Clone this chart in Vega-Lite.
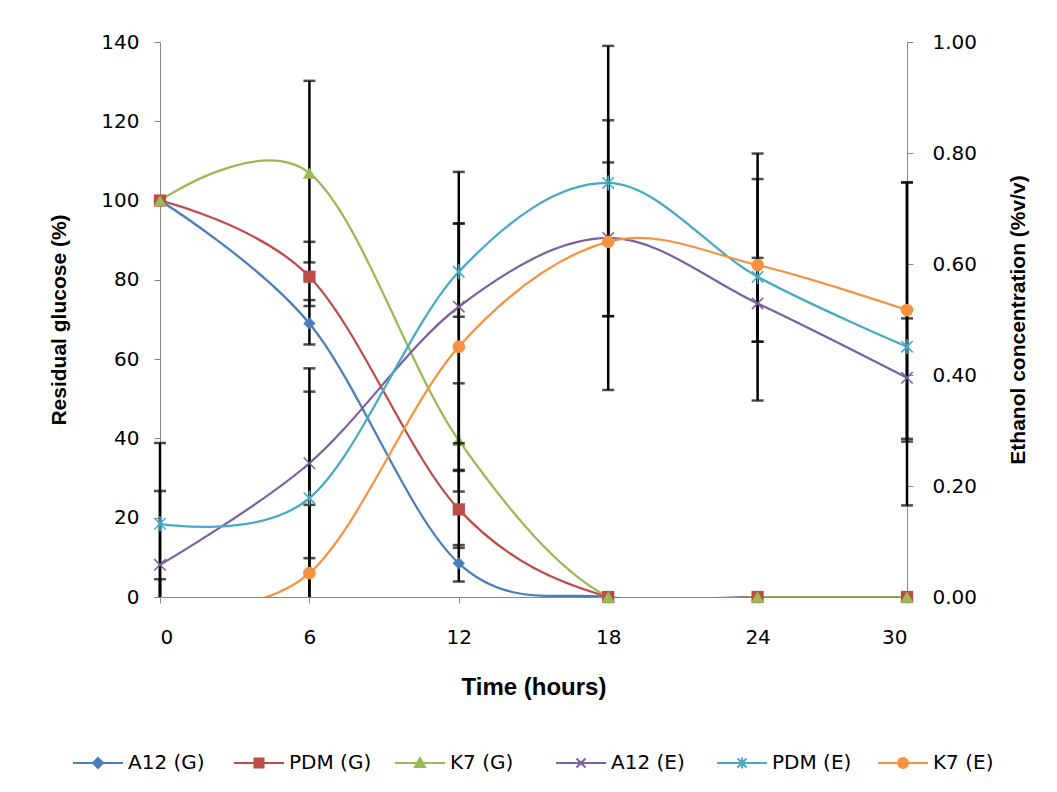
{
  "$schema": "https://vega.github.io/schema/vega-lite/v6.json",
  "width": 747,
  "height": 555,
  "autosize": {"type": "none"},
  "padding": {"left": 160, "top": 42, "right": 150, "bottom": 195},
  "background": "white",
  "config": {
    "view": {"stroke": null},
    "font": "Liberation Sans",
    "axis": {
      "grid": false,
      "domainColor": "#868686",
      "tickColor": "#868686",
      "domainWidth": 1,
      "tickWidth": 1,
      "tickSize": 6,
      "labelColor": "#000000",
      "labelFont": "DejaVu Sans",
      "labelFontSize": 20,
      "titleFont": "Liberation Sans",
      "titleFontSize": 21,
      "titleFontWeight": "bold",
      "titleColor": "#000000"
    }
  },
  "data": {
    "values": [
      {"group": "G", "series": "A12 (G)", "time": 0, "value": 100, "lo": null, "hi": null},
      {"group": "G", "series": "A12 (G)", "time": 6, "value": 69, "lo": 63.7, "hi": 74.9},
      {"group": "G", "series": "A12 (G)", "time": 12, "value": 8.5, "lo": 3.9, "hi": 13.1},
      {"group": "G", "series": "A12 (G)", "time": 18, "value": 0, "lo": null, "hi": null},
      {"group": "G", "series": "A12 (G)", "time": 24, "value": 0, "lo": null, "hi": null},
      {"group": "G", "series": "A12 (G)", "time": 30, "value": 0, "lo": null, "hi": null},
      {"group": "G", "series": "PDM (G)", "time": 0, "value": 100, "lo": null, "hi": null},
      {"group": "G", "series": "PDM (G)", "time": 6, "value": 80.8, "lo": 73.4, "hi": 89.6},
      {"group": "G", "series": "PDM (G)", "time": 12, "value": 22.1, "lo": 12.4, "hi": 31.8},
      {"group": "G", "series": "PDM (G)", "time": 18, "value": 0, "lo": null, "hi": null},
      {"group": "G", "series": "PDM (G)", "time": 24, "value": 0, "lo": null, "hi": null},
      {"group": "G", "series": "PDM (G)", "time": 30, "value": 0, "lo": null, "hi": null},
      {"group": "G", "series": "K7 (G)", "time": 0, "value": 100, "lo": null, "hi": null},
      {"group": "G", "series": "K7 (G)", "time": 6, "value": 106.9, "lo": 84.4, "hi": 130.2},
      {"group": "G", "series": "K7 (G)", "time": 12, "value": 39.5, "lo": 26.6, "hi": 53.9},
      {"group": "G", "series": "K7 (G)", "time": 18, "value": 0, "lo": null, "hi": null},
      {"group": "G", "series": "K7 (G)", "time": 24, "value": 0, "lo": null, "hi": null},
      {"group": "G", "series": "K7 (G)", "time": 30, "value": 0, "lo": null, "hi": null},
      {"group": "E", "series": "A12 (E)", "time": 0, "value": 0.058, "lo": -0.077, "hi": 0.191},
      {"group": "E", "series": "A12 (E)", "time": 6, "value": 0.241, "lo": 0.07, "hi": 0.412},
      {"group": "E", "series": "A12 (E)", "time": 12, "value": 0.523, "lo": 0.277, "hi": 0.766},
      {"group": "E", "series": "A12 (E)", "time": 18, "value": 0.647, "lo": 0.506, "hi": 0.783},
      {"group": "E", "series": "A12 (E)", "time": 24, "value": 0.529, "lo": 0.46, "hi": 0.611},
      {"group": "E", "series": "A12 (E)", "time": 30, "value": 0.395, "lo": 0.28, "hi": 0.502},
      {"group": "E", "series": "PDM (E)", "time": 0, "value": 0.132, "lo": -0.018, "hi": 0.2775},
      {"group": "E", "series": "PDM (E)", "time": 6, "value": 0.178, "lo": -0.014, "hi": 0.37},
      {"group": "E", "series": "PDM (E)", "time": 12, "value": 0.586, "lo": 0.505, "hi": 0.673},
      {"group": "E", "series": "PDM (E)", "time": 18, "value": 0.746, "lo": 0.506, "hi": 0.993},
      {"group": "E", "series": "PDM (E)", "time": 24, "value": 0.577, "lo": 0.354, "hi": 0.799},
      {"group": "E", "series": "PDM (E)", "time": 30, "value": 0.451, "lo": 0.165, "hi": 0.747},
      {"group": "E", "series": "K7 (E)", "time": 0, "value": -0.025, "lo": -0.032, "hi": 0.032},
      {"group": "E", "series": "K7 (E)", "time": 6, "value": 0.043, "lo": -0.08, "hi": 0.166},
      {"group": "E", "series": "K7 (E)", "time": 12, "value": 0.451, "lo": 0.229, "hi": 0.673},
      {"group": "E", "series": "K7 (E)", "time": 18, "value": 0.64, "lo": 0.373, "hi": 0.859},
      {"group": "E", "series": "K7 (E)", "time": 24, "value": 0.598, "lo": 0.46, "hi": 0.753},
      {"group": "E", "series": "K7 (E)", "time": 30, "value": 0.517, "lo": 0.285, "hi": 0.747}
    ]
  },
  "transform": [{"calculate": "datum.lo == null ? null : max(datum.lo, 0)", "as": "loVis"}],
  "encoding": {
    "x": {
      "field": "time",
      "type": "quantitative",
      "scale": {"domain": [0, 30], "nice": false},
      "axis": {"values": [0, 6, 12, 18, 24, 30], "title": "Time (hours)", "labelPadding": 24, "titlePadding": 28, "titleFontSize": 24}
    },
    "color": {
      "field": "series", "type": "nominal",
      "scale": {
        "domain": ["A12 (G)", "PDM (G)", "K7 (G)", "A12 (E)", "PDM (E)", "K7 (E)"],
        "range": ["#4A7EBB", "#BE4B48", "#98B954", "#7D60A0", "#46AAC5", "#F69240"]
      },
      "legend": null
    }
  },
  "layer": [
    {
      "transform": [{"filter": "datum.group === 'G'"}],
      "layer": [
        {
          "mark": {"type": "line", "interpolate": "cardinal", "strokeWidth": 2.25, "clip": true},
          "encoding": {
            "y": {
              "field": "value", "type": "quantitative",
              "scale": {"domain": [0, 140], "nice": false},
              "axis": {"orient": "left", "values": [0, 20, 40, 60, 80, 100, 120, 140], "title": "Residual glucose (%)", "labelPadding": 15, "titlePadding": 31}
            },
            "color": {
              "field": "series", "type": "nominal",
              "legend": {
                "title": null,
                "orient": "none",
                "direction": "horizontal",
                "legendX": -72,
                "legendY": 711,
                "labelFontSize": 20,
                "labelFont": "DejaVu Sans",
                "labelColor": "#000000",
                "symbolSize": 100,
                "labelOffset": 20,
                "columnPadding": 19,
                "gridAlign": "all",
                "symbolType": "M-5,0H5",
                "encode": {
                  "symbols": {
                    "update": {
                      "shape": {"signal": "datum.value === 'A12 (G)' ? 'M-5,0H5M0,-1L1,0L0,1L-1,0Z' : datum.value === 'PDM (G)' ? 'M-5,0H5M-0.9,-0.9H0.9V0.9H-0.9Z' : datum.value === 'K7 (G)' ? 'M-5,0H5M0,-1L1,0.8H-1Z' : datum.value === 'A12 (E)' ? 'M-5,0H5M-0.9,-0.9L0.9,0.9M-0.9,0.9L0.9,-0.9' : datum.value === 'PDM (E)' ? 'M-5,0H5M-0.9,-0.9L0.9,0.9M-0.9,0.9L0.9,-0.9M0,-1.1V1.1' : 'M-5,0H5M1,0A1,1,0,1,1,-1,0A1,1,0,1,1,1,0Z'"},
                      "fill": {"signal": "scale('color', datum.value)"},
                      "stroke": {"signal": "scale('color', datum.value)"},
                      "strokeWidth": {"value": 2},
                      "opacity": {"value": 1}
                    }
                  }
                }
              }
            }
          }
        },
        {
          "transform": [{"filter": "datum.hi != null"}],
          "mark": {"type": "rule", "strokeWidth": 2.5},
          "encoding": {
            "y": {"field": "loVis", "type": "quantitative", "axis": {"orient": "left", "values": [0, 20, 40, 60, 80, 100, 120, 140], "title": "Residual glucose (%)", "labelPadding": 15, "titlePadding": 31}},
            "y2": {"field": "hi"},
            "color": {"value": "#000000"}
          }
        },
        {
          "transform": [{"filter": "datum.lo != null && datum.lo >= 0"}],
          "mark": {"type": "tick", "orient": "horizontal", "thickness": 2.5, "size": 12},
          "encoding": {
            "y": {"field": "lo", "type": "quantitative", "axis": {"orient": "left", "values": [0, 20, 40, 60, 80, 100, 120, 140], "title": "Residual glucose (%)", "labelPadding": 15, "titlePadding": 31}},
            "color": {"value": "#000000"}
          }
        },
        {
          "transform": [{"filter": "datum.hi != null"}],
          "mark": {"type": "tick", "orient": "horizontal", "thickness": 2.5, "size": 12},
          "encoding": {
            "y": {"field": "hi", "type": "quantitative", "axis": {"orient": "left", "values": [0, 20, 40, 60, 80, 100, 120, 140], "title": "Residual glucose (%)", "labelPadding": 15, "titlePadding": 31}},
            "color": {"value": "#000000"}
          }
        },
        {
          "transform": [{"filter": "datum.series === 'A12 (G)'"}],
          "mark": {"type": "point", "shape": "diamond", "filled": true, "opacity": 1, "size": 150},
          "encoding": {"y": {"field": "value", "type": "quantitative", "axis": {"orient": "left", "values": [0, 20, 40, 60, 80, 100, 120, 140], "title": "Residual glucose (%)", "labelPadding": 15, "titlePadding": 31}}}
        },
        {
          "transform": [{"filter": "datum.series === 'PDM (G)'"}],
          "mark": {"type": "point", "shape": "square", "filled": true, "opacity": 1, "size": 150},
          "encoding": {"y": {"field": "value", "type": "quantitative", "axis": {"orient": "left", "values": [0, 20, 40, 60, 80, 100, 120, 140], "title": "Residual glucose (%)", "labelPadding": 15, "titlePadding": 31}}}
        },
        {
          "transform": [{"filter": "datum.series === 'K7 (G)'"}],
          "mark": {"type": "point", "shape": "triangle-up", "filled": true, "opacity": 1, "size": 170},
          "encoding": {"y": {"field": "value", "type": "quantitative", "axis": {"orient": "left", "values": [0, 20, 40, 60, 80, 100, 120, 140], "title": "Residual glucose (%)", "labelPadding": 15, "titlePadding": 31}}}
        }
      ]
    },
    {
      "transform": [{"filter": "datum.group === 'E'"}],
      "layer": [
        {
          "mark": {"type": "line", "interpolate": "cardinal", "strokeWidth": 2.25, "clip": true},
          "encoding": {
            "y": {
              "field": "value", "type": "quantitative",
              "scale": {"domain": [0, 1], "nice": false},
              "axis": {"orient": "right", "values": [0, 0.2, 0.4, 0.6, 0.8, 1.0], "format": ".2f", "title": "Ethanol concentration (%v/v)", "labelPadding": 19, "titlePadding": 52, "titleAngle": 270}
            }
          }
        },
        {
          "transform": [{"filter": "datum.hi != null"}],
          "mark": {"type": "rule", "strokeWidth": 2.5},
          "encoding": {
            "y": {"field": "loVis", "type": "quantitative", "axis": {"orient": "right", "values": [0, 0.2, 0.4, 0.6, 0.8, 1.0], "format": ".2f", "title": "Ethanol concentration (%v/v)", "labelPadding": 19, "titlePadding": 52, "titleAngle": 270}},
            "y2": {"field": "hi"},
            "color": {"value": "#000000"}
          }
        },
        {
          "transform": [{"filter": "datum.lo != null && datum.lo >= 0"}],
          "mark": {"type": "tick", "orient": "horizontal", "thickness": 2.5, "size": 12},
          "encoding": {
            "y": {"field": "lo", "type": "quantitative", "axis": {"orient": "right", "values": [0, 0.2, 0.4, 0.6, 0.8, 1.0], "format": ".2f", "title": "Ethanol concentration (%v/v)", "labelPadding": 19, "titlePadding": 52, "titleAngle": 270}},
            "color": {"value": "#000000"}
          }
        },
        {
          "transform": [{"filter": "datum.hi != null"}],
          "mark": {"type": "tick", "orient": "horizontal", "thickness": 2.5, "size": 12},
          "encoding": {
            "y": {"field": "hi", "type": "quantitative", "axis": {"orient": "right", "values": [0, 0.2, 0.4, 0.6, 0.8, 1.0], "format": ".2f", "title": "Ethanol concentration (%v/v)", "labelPadding": 19, "titlePadding": 52, "titleAngle": 270}},
            "color": {"value": "#000000"}
          }
        },
        {
          "transform": [{"filter": "datum.series === 'A12 (E)'"}],
          "mark": {"type": "point", "shape": "M-1,-1L1,1M-1,1L1,-1", "filled": false, "opacity": 1, "size": 130, "strokeWidth": 1.6},
          "encoding": {"y": {"field": "value", "type": "quantitative", "axis": {"orient": "right", "values": [0, 0.2, 0.4, 0.6, 0.8, 1.0], "format": ".2f", "title": "Ethanol concentration (%v/v)", "labelPadding": 19, "titlePadding": 52, "titleAngle": 270}}}
        },
        {
          "transform": [{"filter": "datum.series === 'PDM (E)'"}],
          "mark": {"type": "point", "shape": "M-1,-1L1,1M-1,1L1,-1M0,-1.3V1.3", "filled": false, "opacity": 1, "size": 130, "strokeWidth": 1.6},
          "encoding": {"y": {"field": "value", "type": "quantitative", "axis": {"orient": "right", "values": [0, 0.2, 0.4, 0.6, 0.8, 1.0], "format": ".2f", "title": "Ethanol concentration (%v/v)", "labelPadding": 19, "titlePadding": 52, "titleAngle": 270}}}
        },
        {
          "transform": [{"filter": "datum.series === 'K7 (E)' && datum.value >= 0"}],
          "mark": {"type": "point", "shape": "circle", "filled": true, "opacity": 1, "size": 160},
          "encoding": {"y": {"field": "value", "type": "quantitative", "axis": {"orient": "right", "values": [0, 0.2, 0.4, 0.6, 0.8, 1.0], "format": ".2f", "title": "Ethanol concentration (%v/v)", "labelPadding": 19, "titlePadding": 52, "titleAngle": 270}}}
        }
      ]
    }
  ],
  "resolve": {"scale": {"y": "independent"}}
}
